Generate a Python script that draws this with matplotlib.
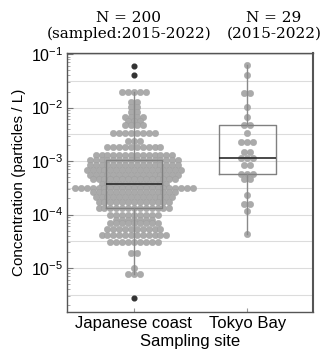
import numpy as np
import matplotlib.pyplot as plt
from matplotlib import cbook
from matplotlib.ticker import LogLocator, NullFormatter

plt.rcParams['font.family'] = ['Liberation Sans', 'DejaVu Sans']
plt.rcParams['mathtext.fontset'] = 'custom'
plt.rcParams['mathtext.rm'] = 'Liberation Sans'
plt.rcParams['mathtext.it'] = 'Liberation Sans:italic'

sites = ['Japanese coast', 'Tokyo Bay']
titles = ['N = 200\n(sampled:2015-2022)', 'N = 29\n(2015-2022)']

# concentration levels (particles / L) and how many samples sit on each level
coast_levels = [0.061, 0.040, 0.020, 0.013, 0.0104, 0.0084, 0.0068, 0.0057, 0.0048,
                0.0034, 0.0024, 0.0018, 0.0013, 0.00104, 0.00084, 0.00068, 0.00054,
                0.00046, 0.00038, 0.00032, 0.00026, 0.00021, 0.00017, 0.000135,
                0.000100, 8.0e-5, 6.8e-5, 5.4e-5, 4.2e-5, 3.1e-5, 1.9e-5, 1.0e-5,
                7.7e-6, 2.8e-6]
coast_counts = [1, 1, 5, 2, 2, 2, 4, 3, 4,
                8, 3, 10, 14, 16, 16, 17, 16,
                15, 12, 21, 15, 14, 13, 13,
                9, 7, 9, 10, 12, 9, 2, 1,
                3, 1]

bay_levels = [0.062, 0.040, 0.019, 0.0104, 0.0068, 0.0048, 0.0034, 0.0023, 0.0015,
              0.00114, 0.00084, 0.00058, 0.00046, 0.00023, 0.00016, 0.000114, 4.4e-5]
bay_counts = [1, 1, 2, 1, 1, 2, 1, 3, 2,
              3, 2, 3, 2, 1, 2, 1, 1]

groups = [(coast_levels, coast_counts), (bay_levels, bay_counts)]

fig = plt.figure(figsize=(3.24, 3.51), dpi=100)
ax = fig.add_axes([0.207, 0.111, 0.759, 0.738])
ax.set_yscale('log')

# light grid every half decade
for e in np.arange(-6.0, -0.9, 0.5):
    ax.axhline(10 ** e, color='#dcdcdc', lw=0.8, zorder=0)

stats = []
dx = 0.052
for pos, (levels, counts) in enumerate(groups):
    vals = np.repeat(levels, counts)
    st = cbook.boxplot_stats(np.log10(vals), whis=1.5)[0]
    for k in ['mean', 'med', 'q1', 'q3', 'cilo', 'cihi', 'whislo', 'whishi']:
        st[k] = 10 ** st[k]
    st['fliers'] = 10 ** st['fliers']
    stats.append(st)
    # square beeswarm: one row per level
    for lv, n in zip(levels, counts):
        if lv < st['whislo'] * 0.999 or lv > st['whishi'] * 1.001:
            continue
        xs = pos + (np.arange(n) - (n - 1) / 2) * dx
        ax.scatter(xs, np.full(n, lv), s=21, color='#aaaaaa',
                   edgecolors='#9c9c9c', linewidths=0.3, zorder=2)

ax.bxp(stats, positions=[0, 1], widths=0.5, showcaps=False,
       boxprops=dict(color='#808080', lw=1.0),
       whiskerprops=dict(color='#8a8a8a', lw=1.0),
       medianprops=dict(color='#2a2a2a', lw=1.2),
       flierprops=dict(marker='o', markersize=3.4, markerfacecolor='#333333',
                       markeredgecolor='#333333'),
       zorder=3)

ax.set_xlim(-0.59, 1.58)
ax.set_ylim(1.5e-6, 0.105)
ax.set_xticks([0, 1])
ax.set_xticklabels(sites, fontsize=12)
ax.yaxis.set_major_locator(LogLocator(base=10, numticks=10))
ax.yaxis.set_minor_locator(LogLocator(base=10, subs=np.arange(2, 10), numticks=20))
ax.yaxis.set_minor_formatter(NullFormatter())
ax.tick_params(axis='y', which='major', direction='in', length=4, color='#777777',
               labelsize=11.5, pad=3)
ax.tick_params(axis='y', which='minor', direction='in', length=2, color='#999999')
ax.tick_params(axis='x', direction='in', length=3, color='#999999', pad=3)
for sp in ax.spines.values():
    sp.set_color('#555555')
    sp.set_linewidth(1.0)
ax.spines['right'].set_linewidth(1.5)

ax.set_ylabel('Concentration (particles / L)', fontsize=11, labelpad=3)
ax.set_xlabel('Sampling site', fontsize=12, labelpad=2)

fig.text(0.398, 0.927, titles[0], ha='center', va='center', fontsize=11,
         family='DejaVu Serif', linespacing=1.15)
fig.text(0.846, 0.927, titles[1], ha='center', va='center', fontsize=11,
         family='DejaVu Serif', linespacing=1.15)

fig.savefig('out.png', dpi=100)
